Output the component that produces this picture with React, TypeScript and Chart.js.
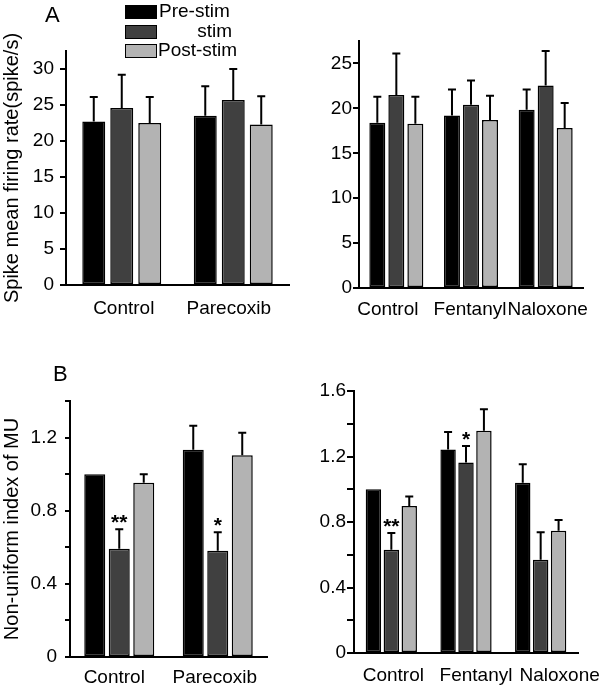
import React, { useEffect, useRef } from 'react';
import { Chart, registerables } from 'chart.js';

Chart.register(...registerables);

const FONT = '"Liberation Sans", Arial, Helvetica, sans-serif';

// Series
const seriesNames = ['Pre-stim', 'stim', 'Post-stim'];
const seriesColors = ['#000000', '#404040', '#b3b3b3'];

// Panel A (left): spike mean firing rate, Parecoxib
const catsA1 = ['Control', 'Parecoxib'];
const preA1 = [22.7, 23.5];
const preErrA1 = [3.4, 4.1];
const stimA1 = [24.6, 25.7];
const stimErrA1 = [4.6, 4.3];
const postA1 = [22.5, 22.3];
const postErrA1 = [3.6, 3.9];
const sigA1 = ['', ''];

// Panel A (right): spike mean firing rate, Fentanyl / Naloxone
const catsA2 = ['Control', 'Fentanyl', 'Naloxone'];
const preA2 = [18.4, 19.2, 19.85];
const preErrA2 = [2.9, 2.9, 2.25];
const stimA2 = [21.5, 20.4, 22.55];
const stimErrA2 = [4.6, 2.7, 3.85];
const postA2 = [18.3, 18.7, 17.8];
const postErrA2 = [3.0, 2.7, 2.8];
const sigA2 = ['', '', ''];

// Panel B (left): non-uniform index, Parecoxib
const catsB1 = ['Control', 'Parecoxib'];
const preB1 = [1.0, 1.134];
const preErrB1 = [0, 0.13];
const stimB1 = [0.592, 0.581];
const stimErrB1 = [0.106, 0.101];
const postB1 = [0.953, 1.103];
const postErrB1 = [0.047, 0.124];
const sigB1 = ['**', '*'];

// Panel B (right): non-uniform index, Fentanyl / Naloxone
const catsB2 = ['Control', 'Fentanyl', 'Naloxone'];
const preB2 = [1.0, 1.242, 1.039];
const preErrB2 = [0, 0.108, 0.114];
const stimB2 = [0.631, 1.163, 0.57];
const stimErrB2 = [0.102, 0.101, 0.167];
const postB2 = [0.897, 1.358, 0.747];
const postErrB2 = [0.059, 0.13, 0.065];
const sigB2 = ['**', '*', ''];

// Axis texts
const yTitleA = 'Spike mean firing rate(spike/s)';
const yTitleB = 'Non-uniform index of MU';

type Box = { left: number; top: number; width: number; height: number };
type Area = { l: number; t: number; r: number; b: number };
type PanelCfg = {
  box: Box;
  area: Area;
  cats: string[];
  values: number[][];
  errs: number[][];
  sig: string[];
  yMax: number;
  yStep: number;
  labelEvery: number;
  decimals: number;
  yTitle: string;
  tickLength: number;
  tickPadding: number;
  labelDx: number[];
  labelDy: number;
  catPct: number;
  barPct: number;
};

const errorBarPlugin = {
  id: 'errorBars',
  afterDatasetsDraw(chart: any) {
    const ctx = chart.ctx;
    const yScale = chart.scales.y;
    chart.data.datasets.forEach((ds: any, i: number) => {
      const meta = chart.getDatasetMeta(i);
      meta.data.forEach((bar: any, j: number) => {
        const v = ds.data[j];
        const e = ds.errors ? ds.errors[j] : 0;
        const top = yScale.getPixelForValue(v + e);
        ctx.save();
        ctx.strokeStyle = '#000';
        ctx.lineWidth = 2;
        if (e > 0) {
          ctx.beginPath();
          ctx.moveTo(bar.x, bar.y);
          ctx.lineTo(bar.x, top);
          ctx.moveTo(bar.x - 4, top);
          ctx.lineTo(bar.x + 4, top);
          ctx.stroke();
        }
        if (ds.sig && ds.sig[j]) {
          ctx.fillStyle = '#000';
          ctx.font = `bold 21px ${FONT}`;
          ctx.textAlign = 'center';
          ctx.textBaseline = 'alphabetic';
          ctx.fillText(ds.sig[j], bar.x, top);
        }
        ctx.restore();
      });
    });
  },
};

// Category labels drawn under each group (with small layout nudges like the original figure)
const catLabelPlugin = {
  id: 'catLabels',
  afterDraw(chart: any, _args: any, opts: any) {
    const xs = chart.scales.x;
    const ctx = chart.ctx;
    const labels: string[] = chart.data.labels;
    ctx.save();
    ctx.font = `19px ${FONT}`;
    ctx.fillStyle = '#000';
    ctx.textAlign = 'center';
    ctx.textBaseline = 'middle';
    labels.forEach((l, i) => {
      ctx.fillText(l, xs.getPixelForValue(i) + (opts.dx[i] || 0), chart.chartArea.bottom + opts.dy);
    });
    ctx.restore();
  },
};

function BarPanel({ cfg }: { cfg: PanelCfg }) {
  const ref = useRef<HTMLCanvasElement | null>(null);
  useEffect(() => {
    if (!ref.current) return;
    const { box, area } = cfg;
    const yW = area.l - box.left;
    const xH = box.top + box.height - area.b;
    const chart = new Chart(ref.current, {
      type: 'bar',
      data: {
        labels: cfg.cats,
        datasets: seriesNames.map((name, i) => ({
          label: name,
          data: cfg.values[i],
          errors: cfg.errs[i],
          sig: i === 1 ? cfg.sig : undefined,
          backgroundColor: seriesColors[i],
          borderColor: '#000',
          borderWidth: 1.5,
          borderSkipped: false,
          categoryPercentage: cfg.catPct,
          barPercentage: cfg.barPct,
        })) as any,
      },
      options: {
        animation: false,
        responsive: false,
        devicePixelRatio: 1,
        layout: {
          padding: {
            left: 0,
            top: area.t - box.top,
            right: box.left + box.width - area.r,
            bottom: 0,
          },
        },
        plugins: {
          legend: { display: false },
          tooltip: { enabled: false },
          catLabels: { dx: cfg.labelDx, dy: cfg.labelDy },
        },
        scales: {
          x: {
            type: 'category',
            grid: { display: false, drawTicks: false },
            border: { display: true, color: '#000', width: 2 },
            ticks: { display: false },
            afterFit: (s: any) => {
              s.height = xH;
            },
          },
          y: {
            type: 'linear',
            min: 0,
            max: cfg.yMax,
            border: { display: true, color: '#000', width: 2 },
            grid: {
              display: true,
              drawOnChartArea: false,
              drawTicks: true,
              tickLength: cfg.tickLength,
              color: '#000',
              lineWidth: 2,
            },
            ticks: {
              stepSize: cfg.yStep,
              includeBounds: false,
              color: '#000',
              font: { family: FONT, size: 19 },
              padding: cfg.tickPadding,
              callback: (v: any) => {
                const n = Number(v);
                const k = Math.round(n / cfg.yStep);
                if (k % cfg.labelEvery !== 0) return '';
                if (Math.abs(n) < 1e-9) return '0';
                return n.toFixed(cfg.decimals);
              },
            },
            title: {
              display: !!cfg.yTitle,
              text: cfg.yTitle,
              color: '#000',
              font: { family: FONT, size: 20 },
              padding: 0,
            },
            afterFit: (s: any) => {
              s.width = yW;
            },
          },
        },
      } as any,
      plugins: [errorBarPlugin, catLabelPlugin],
    });
    return () => chart.destroy();
  }, [cfg]);
  const { box } = cfg;
  return (
    <canvas
      ref={ref}
      width={box.width}
      height={box.height}
      style={{ position: 'absolute', left: box.left, top: box.top, width: box.width, height: box.height }}
    />
  );
}

const panels: PanelCfg[] = [
  {
    box: { left: 0, top: 0, width: 300, height: 330 },
    area: { l: 66, t: 51, r: 289, b: 285 },
    cats: catsA1,
    values: [preA1, stimA1, postA1],
    errs: [preErrA1, stimErrA1, postErrA1],
    sig: sigA1,
    yMax: 32.5,
    yStep: 5,
    labelEvery: 1,
    decimals: 0,
    yTitle: yTitleA,
    tickLength: 6,
    tickPadding: 6,
    labelDx: [2, -4.5],
    labelDy: 24,
    catPct: 0.753,
    barPct: 0.82,
  },
  {
    box: { left: 300, top: 0, width: 300, height: 330 },
    area: { l: 359, t: 41, r: 583, b: 288 },
    cats: catsA2,
    values: [preA2, stimA2, postA2],
    errs: [preErrA2, stimErrA2, postErrA2],
    sig: sigA2,
    yMax: 27.5,
    yStep: 5,
    labelEvery: 1,
    decimals: 0,
    yTitle: '',
    tickLength: 6,
    tickPadding: 1,
    labelDx: [-8.5, -1, 2],
    labelDy: 22,
    catPct: 0.764,
    barPct: 0.84,
  },
  {
    box: { left: 0, top: 340, width: 300, height: 349 },
    area: { l: 70, t: 401, r: 267, b: 657 },
    cats: catsB1,
    values: [preB1, stimB1, postB1],
    errs: [preErrB1, stimErrB1, postErrB1],
    sig: sigB1,
    yMax: 1.4,
    yStep: 0.2,
    labelEvery: 2,
    decimals: 1,
    yTitle: yTitleB,
    tickLength: 5,
    tickPadding: 8,
    labelDx: [-5, -3],
    labelDy: 21,
    catPct: 0.746,
    barPct: 0.857,
  },
  {
    box: { left: 300, top: 340, width: 300, height: 349 },
    area: { l: 354, t: 391, r: 578, b: 653 },
    cats: catsB2,
    values: [preB2, stimB2, postB2],
    errs: [preErrB2, stimErrB2, postErrB2],
    sig: sigB2,
    yMax: 1.6,
    yStep: 0.2,
    labelEvery: 2,
    decimals: 1,
    yTitle: '',
    tickLength: 7,
    tickPadding: 1,
    labelDx: [2, 10, 19],
    labelDy: 22.5,
    catPct: 0.72,
    barPct: 0.86,
  },
];

const legendBoxes = [
  { top: 4.5, textLeft: 159, align: 'left' as const },
  { top: 24.5, textLeft: 159, align: 'right' as const },
  { top: 43.5, textLeft: 158, align: 'left' as const },
];

export default function App() {
  return (
    <div
      style={{
        position: 'absolute',
        left: 0,
        top: 0,
        width: 600,
        height: 689,
        background: '#fff',
        fontFamily: FONT,
        color: '#000',
      }}
    >
      {panels.map((p, i) => (
        <BarPanel key={i} cfg={p} />
      ))}
      {legendBoxes.map((lb, i) => (
        <React.Fragment key={i}>
          <div
            style={{
              position: 'absolute',
              left: 125,
              top: lb.top,
              width: 32,
              height: 14,
              boxSizing: 'border-box',
              border: '1.5px solid #000',
              background: seriesColors[i],
            }}
          />
          <div
            style={{
              position: 'absolute',
              left: lb.textLeft,
              top: lb.top - 3.8,
              width: 232 - lb.textLeft,
              textAlign: lb.align,
              fontSize: 19,
              lineHeight: '19px',
              whiteSpace: 'nowrap',
            }}
          >
            {seriesNames[i]}
          </div>
        </React.Fragment>
      ))}
      <div style={{ position: 'absolute', left: 45, top: 4.4, fontSize: 22, lineHeight: '22px' }}>A</div>
      <div style={{ position: 'absolute', left: 53, top: 363.4, fontSize: 22, lineHeight: '22px' }}>B</div>
    </div>
  );
}
